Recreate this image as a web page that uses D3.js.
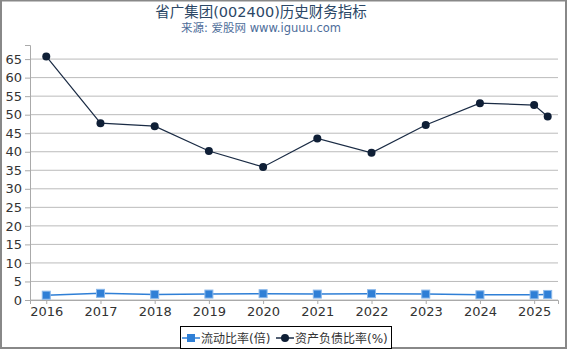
<!DOCTYPE html>
<html>
<head>
<meta charset="utf-8">
<script src="https://cdn.jsdelivr.net/npm/d3@7"></script>
<style>
  body { margin: 0; background: #fff; }
  svg { display: block; font-family: "DejaVu Sans", "Noto Sans CJK SC", sans-serif; }
</style>
</head>
<body>
<svg id="chart"></svg>
<script>
const width = 570,
      height = 350

// time positions (annual points, plus latest quarter)
const years = [2016, 2017, 2018, 2019, 2020, 2021, 2022, 2023, 2024, 2025, 2025.25]
const currentRatio = [1.3, 1.8, 1.5, 1.6, 1.7, 1.6, 1.7, 1.6, 1.4, 1.4, 1.5]
const debtRatio = [65.7, 47.7, 46.9, 40.2, 35.9, 43.6, 39.7, 47.2, 53.1, 52.6, 49.5]
const xTicks = [2016, 2017, 2018, 2019, 2020, 2021, 2022, 2023, 2024, 2025]
const yTicks = [0, 5, 10, 15, 20, 25, 30, 35, 40, 45, 50, 55, 60, 65]
const seriesNames = ["流动比率(倍)", "资产负债比率(%)"]

const svg = d3.select("#chart")
    .attr("width", width)
    .attr("height", height)

// outer frame
svg.append("rect")
    .attr("x", 1).attr("y", 0.5)
    .attr("width", 565).attr("height", 347.5)
    .attr("fill", "none")
    .attr("stroke", "#888")
    .attr("stroke-width", 2)

svg.append("text")
    .attr("x", 261).attr("y", 17)
    .attr("text-anchor", "middle")
    .attr("font-size", 14.5)
    .attr("fill", "#2b4766")
    .text("省广集团(002400)历史财务指标")

svg.append("text")
    .attr("x", 261).attr("y", 32)
    .attr("text-anchor", "middle")
    .attr("font-size", 11.5)
    .attr("fill", "#4d6d9a")
    .text("来源: 爱股网 www.iguuu.com")

const x = d3.scaleLinear()
    .domain([2015.7, 2025.44])
    .range([30, 558])

const y = d3.scaleLinear()
    .domain([0, 68.8])
    .range([300, 45])

// gridlines
svg.append("g")
    .selectAll("line")
    .data(yTicks)
    .enter()
    .append("line")
      .attr("x1", 30).attr("x2", 558)
      .attr("y1", d => y(d)).attr("y2", d => y(d))
      .attr("stroke", "#bbb")
      .attr("stroke-width", 1)

const yAxis = svg.append("g")
    .attr("transform", "translate(30,0)")
    .call(d3.axisLeft(y).tickValues(yTicks).tickSize(5).tickPadding(3))

const xAxis = svg.append("g")
    .attr("transform", "translate(0,300)")
    .call(d3.axisBottom(x).tickValues(xTicks).tickFormat(d3.format("d")).tickSize(4).tickPadding(3))

for (const ax of [xAxis, yAxis]) {
  ax.select(".domain").attr("stroke", "#aaa")
  ax.selectAll(".tick line").attr("stroke", "#aaa")
  ax.selectAll("text")
      .attr("font-size", 13)
      .attr("font-family", "DejaVu Sans, sans-serif")
      .attr("fill", "#333")
}

const line = d3.line()
    .x(d => x(d[0]))
    .y(d => y(d[1]))

const debtPts = years.map((yr, i) => [yr, debtRatio[i]])
const curPts = years.map((yr, i) => [yr, currentRatio[i]])

svg.append("path")
    .datum(curPts)
    .attr("d", line)
    .attr("fill", "none")
    .attr("stroke", "#2f7fd6")
    .attr("stroke-width", 1.5)

svg.append("g")
    .selectAll("rect")
    .data(curPts)
    .enter()
    .append("rect")
      .attr("x", d => x(d[0]) - 4)
      .attr("y", d => y(d[1]) - 4)
      .attr("width", 8).attr("height", 8)
      .attr("fill", "#2f7fd6")
      .attr("stroke", "#8ab8ea")
      .attr("stroke-width", 1)

svg.append("path")
    .datum(debtPts)
    .attr("d", line)
    .attr("fill", "none")
    .attr("stroke", "#1a2b44")
    .attr("stroke-width", 1.2)

svg.append("g")
    .selectAll("circle")
    .data(debtPts)
    .enter()
    .append("circle")
      .attr("cx", d => x(d[0]))
      .attr("cy", d => y(d[1]))
      .attr("r", 4)
      .attr("fill", "#0f1f36")

// legend
const legend = svg.append("g").attr("transform", "translate(180,326)")
legend.append("rect")
    .attr("x", 0.5).attr("y", 0.5)
    .attr("width", 211).attr("height", 22)
    .attr("fill", "#fff")
    .attr("stroke", "#000")

const items = legend.selectAll(".item")
    .data(seriesNames)
    .enter()
    .append("g")
      .attr("class", "item")
      .attr("transform", (d, i) => `translate(${i === 0 ? 2 : 96},0)`)

items.append("line")
    .attr("x1", 0).attr("x2", 18)
    .attr("y1", 12).attr("y2", 12)
    .attr("stroke", (d, i) => i === 0 ? "#2f7fd6" : "#1a2b44")
    .attr("stroke-width", 1.5)

items.each(function(d, i) {
  const g = d3.select(this)
  if (i === 0) {
    g.append("rect").attr("x", 5).attr("y", 8).attr("width", 8).attr("height", 8).attr("fill", "#2f7fd6")
  } else {
    g.append("circle").attr("cx", 9).attr("cy", 12).attr("r", 4).attr("fill", "#0f1f36")
  }
})

items.append("text")
    .attr("x", 19).attr("y", 16.5)
    .attr("font-size", 12)
    .attr("fill", "#333")
    .text(d => d)
</script>
</body>
</html>
